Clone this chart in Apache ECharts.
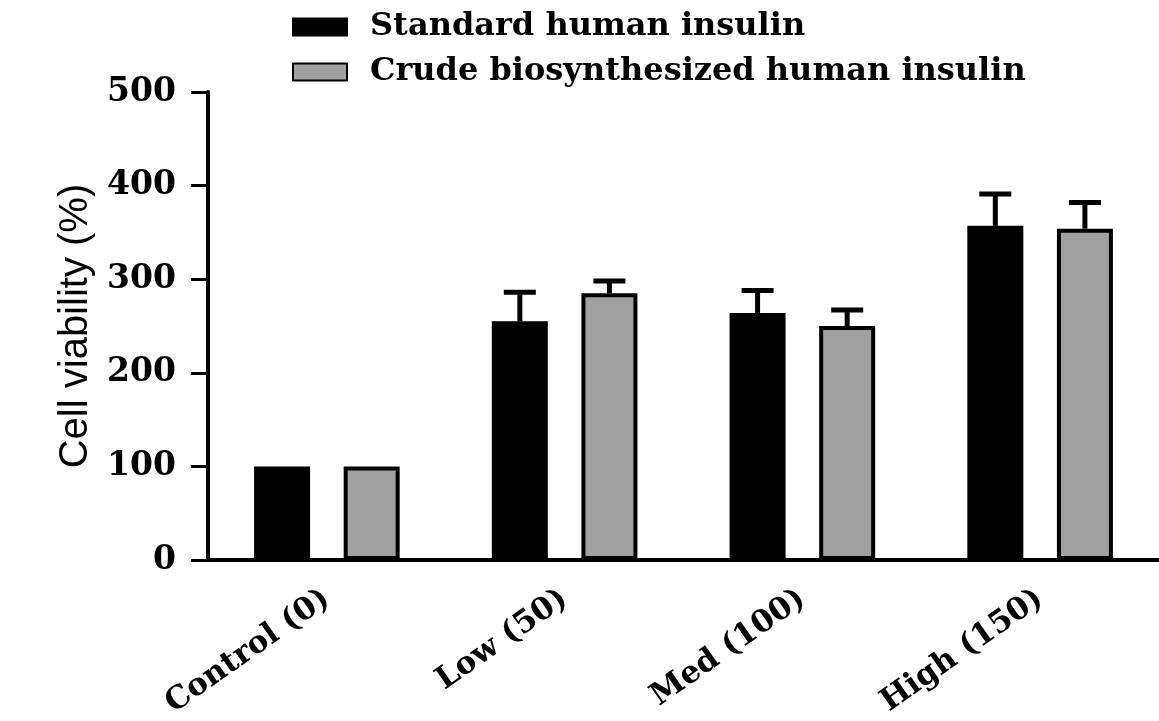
<!DOCTYPE html>
<html>
<head>
<meta charset="utf-8">
<title>Cell viability</title>
<script src="https://cdn.jsdelivr.net/npm/echarts@6/dist/echarts.min.js"></script>
<style>
  html, body { margin: 0; padding: 0; background: #fff; }
  #chart { width: 1159px; height: 721px; }
</style>
</head>
<body>
<div id="chart"></div>
<script>
const categories = ['Control (0)', 'Low (50)', 'Med (100)', 'High (150)'];
const seriesNames = ['Standard human insulin', 'Crude biosynthesized human insulin'];
const standardValues = [100, 255, 264, 357];
const standardErrors = [0, 31, 24, 34];
const crudeValues = [100, 285, 250, 354];
const crudeErrors = [0, 13, 17, 28];
const yTicks = { min: 0, max: 500, interval: 100 };

const serif = '"DejaVu Serif", "Liberation Serif", serif';
const barWidth = 56;
const barGap = 0.6; // gap between the two bars, as a share of bar width
const capHalf = 16;

// error bars sit over the bars, so shift them by half a bar + half the gap
const barOffset = (barWidth + barWidth * barGap) / 2;

const errorSeries = (values, errors, offset) => ({
  type: 'custom',
  z: 5,
  silent: true,
  data: values.map((v, i) => [i, v, errors[i]]),
  encode: { x: 0, y: 1 },
  renderItem: (params, api) => {
    const idx = api.value(0);
    const top = api.value(1);
    const err = api.value(2);
    if (!err) return;
    const base = api.coord([idx, top]);
    const end = api.coord([idx, top + err]);
    const cx = base[0] + offset;
    const style = { stroke: '#000', lineWidth: 5 };
    return {
      type: 'group',
      children: [
        { type: 'line', shape: { x1: cx, y1: base[1], x2: cx, y2: end[1] }, style },
        { type: 'line', shape: { x1: cx - capHalf, y1: end[1], x2: cx + capHalf, y2: end[1] }, style },
      ],
    };
  },
});

const chart = echarts.init(document.getElementById('chart'));
chart.setOption({
  animation: false,
  backgroundColor: '#fff',
  legend: {
    data: seriesNames,
    orient: 'vertical',
    left: 287,
    top: 6,
    itemWidth: 54,
    itemHeight: 17,
    itemGap: 13,
    icon: 'rect',
    textStyle: {
      fontFamily: serif,
      fontWeight: 'bold',
      fontSize: 32,
      color: '#000',
      padding: [0, 0, 0, 18],
    },
  },
  grid: { left: 208, right: -4, top: 92, bottom: 159 },
  xAxis: {
    type: 'category',
    data: categories,
    axisLine: { lineStyle: { color: '#000', width: 4 } },
    axisTick: { alignWithLabel: true, length: 12, lineStyle: { color: '#000', width: 3 } },
    axisLabel: {
      rotate: 35,
      margin: 36,
      fontFamily: serif,
      fontWeight: 'bold',
      fontSize: 31,
      color: '#000',
    },
  },
  yAxis: {
    type: 'value',
    min: yTicks.min,
    max: yTicks.max,
    interval: yTicks.interval,
    name: 'Cell viability (%)',
    nameLocation: 'middle',
    nameRotate: 90,
    nameGap: 110,
    nameTextStyle: {
      fontFamily: '"Liberation Sans", Arial, sans-serif',
      fontSize: 40,
      color: '#000',
    },
    splitLine: { show: false },
    axisLine: { show: true, lineStyle: { color: '#000', width: 4 } },
    axisTick: { show: true, length: 17, lineStyle: { color: '#000', width: 3 } },
    axisLabel: {
      margin: 32,
      fontFamily: serif,
      fontWeight: 'bold',
      fontSize: 33,
      color: '#000',
    },
  },
  series: [
    {
      name: seriesNames[0],
      type: 'bar',
      barWidth,
      barGap: barGap * 100 + '%',
      data: standardValues,
      itemStyle: { color: '#000', borderColor: '#000', borderWidth: 2 },
    },
    {
      name: seriesNames[1],
      type: 'bar',
      barWidth,
      data: crudeValues,
      itemStyle: { color: '#a0a0a0', borderColor: '#000', borderWidth: 4 },
    },
    errorSeries(standardValues, standardErrors, -barOffset),
    errorSeries(crudeValues, crudeErrors, barOffset),
  ],
});
</script>
</body>
</html>
